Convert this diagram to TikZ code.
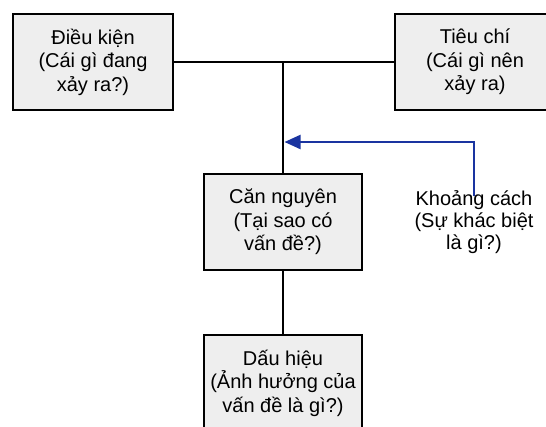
\documentclass[tikz,border=0pt]{standalone}
\usepackage{fontspec}
\setmainfont{Liberation Sans}
\usepackage{tikz}
\usetikzlibrary{positioning, arrows.meta}
\definecolor{gapblue}{RGB}{26,52,160}
\tikzstyle{block} = [rectangle, minimum width=160pt, 
minimum height=96pt, text centered, draw=black, 
line width=2pt, fill=gray!13, inner sep=0pt]
\tikzstyle{link} = [line width=2.8pt]
\tikzstyle{gaparrow} = [line width=2.2pt, draw=gapblue, 
-{Triangle[length=16pt, width=14pt]}]

\begin{document}
\begin{tikzpicture}[x=1pt, y=-1pt,
    every node/.style={font=\fontsize{20}{23.5}\selectfont}, 
    align=center]

\useasboundingbox (0,0) rectangle (546,426);
\clip (0,0) rectangle (546,426);

\node (dieukien) [block] at (93,62) 
{Điều kiện \\ (Cái gì đang \\ xảy ra?)};

\node (tieuchi) [block] at (475,62) 
{Tiêu chí \\ (Cái gì nên \\ xảy ra)};

\node (cannguyen) [block, minimum width=158pt] at (283,222) 
{Căn nguyên \\ (Tại sao có \\ vấn đề?)};

\node (dauhieu) [block, minimum width=158pt, 
below=63pt of cannguyen] 
{Dấu hiệu \\ (Ảnh hưởng của \\ vấn đề là gì?)};

\node (khoangcach) [inner sep=0pt, 
font=\fontsize{20}{22}\selectfont] at (474,222) 
{Khoảng cách \\ (Sự khác biệt \\ là gì?)};

\coordinate (junction) at (cannguyen |- dieukien.east);
\coordinate (gaptip) at (284.5,142);

\draw [link] (dieukien.east) -- (tieuchi.west);
\draw [link] (junction) -- (cannguyen.north);
\draw [link] (cannguyen.south) -- (dauhieu.north);
\draw [gaparrow] ([yshift=-6pt]khoangcach.north) |- (gaptip);

\end{tikzpicture}
\end{document}
